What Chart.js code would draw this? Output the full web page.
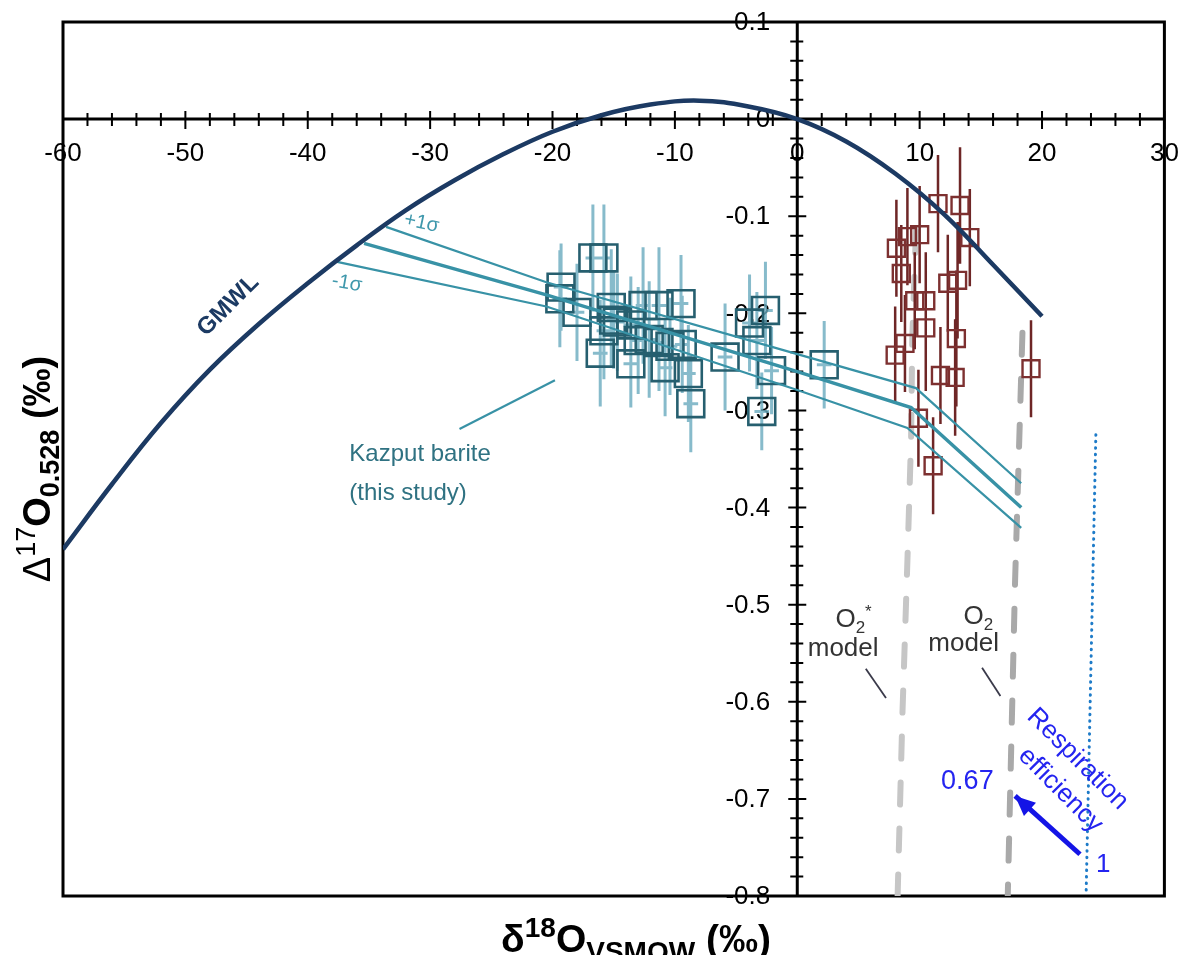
<!DOCTYPE html>
<html>
<head>
<meta charset="utf-8">
<title>Δ17O vs δ18O</title>
<script src="https://cdn.jsdelivr.net/npm/chart.js@4/dist/chart.umd.min.js"></script>
<style>
  html, body { margin: 0; padding: 0; background: #ffffff; }
  #box { width: 1186px; height: 955px; }
</style>
</head>
<body>
<div id="box"><canvas id="oxygen" width="1186" height="955"></canvas></div>
<script>
// global meteoric water line
const gmwlX = [-60, -56, -52, -48, -44, -40, -36, -32, -28, -24, -20, -16, -12, -8, -4, 0, 4, 8, 12, 16, 20];
const gmwlY = [-0.443, -0.376, -0.313, -0.258, -0.211, -0.169, -0.130, -0.094, -0.063, -0.036, -0.013, 0.004, 0.015, 0.019, 0.013, 0.000, -0.023, -0.056, -0.098, -0.150, -0.203];

// mixing lines: central, +1 sigma, -1 sigma
const mixX = [-35.4, -20.5, 0, 9.3, 18.3];
const mixY = [-0.128, -0.181, -0.260, -0.297, -0.400];
const mixUpX = [-33.6, -20.5, 0, 9.7, 18.3];
const mixUpY = [-0.111, -0.168, -0.242, -0.277, -0.375];
const mixLowX = [-37.6, -20.5, 0, 9.0, 18.3];
const mixLowY = [-0.147, -0.193, -0.279, -0.318, -0.421];

// Kazput barite
const kazX = [-16.7, -15.8, -19.3, -19.4, -18.0, -15.2, -15.0, -12.6, -11.3, -9.5, -16.1, -13.6, -10.8, -8.9, -8.7,
              -5.9, -2.1, -2.6, -3.9, -3.3, -2.9, 2.2, -14.7, -13.6, -12.1, -11.3, -10.4, -9.4, -15.8, -13.0];
const kazY = [-0.143, -0.143, -0.173, -0.185, -0.199, -0.194, -0.207, -0.192, -0.192, -0.190, -0.241, -0.252, -0.256, -0.262, -0.293,
              -0.245, -0.259, -0.197, -0.210, -0.228, -0.301, -0.253, -0.209, -0.212, -0.227, -0.230, -0.234, -0.232, -0.218, -0.228];
const kazErr = [0.055, 0.055, 0.045, 0.05, 0.05, 0.06, 0.05, 0.06, 0.06, 0.05, 0.055, 0.045, 0.05, 0.05, 0.05,
                0.055, 0.045, 0.05, 0.05, 0.05, 0.04, 0.045, 0.05, 0.05, 0.06, 0.05, 0.05, 0.05, 0.05, 0.055];

// other barite
const refX = [11.5, 13.3, 14.1, 9.0, 10.0, 8.1, 8.5, 12.3, 13.1, 9.6, 10.5, 10.5, 8.8, 8.0, 13.0, 11.7, 12.9, 9.9, 11.1, 19.1];
const refY = [-0.087, -0.089, -0.122, -0.121, -0.119, -0.133, -0.159, -0.169, -0.166, -0.187, -0.187, -0.215, -0.231, -0.243,
              -0.226, -0.264, -0.266, -0.308, -0.357, -0.257];
const refErr = [0.05, 0.06, 0.05, 0.05, 0.05, 0.05, 0.05, 0.05, 0.06, 0.05, 0.05, 0.065, 0.05, 0.05, 0.07, 0.05, 0.06, 0.05, 0.05, 0.05];

// model trajectories
const o2sX = [9.7, 9.4, 9.3, 9.0, 8.6, 8.2];
const o2sY = [-0.115, -0.225, -0.33, -0.455, -0.61, -0.80];
const o2X = [18.4, 17.8, 17.2];
const o2Y = [-0.22, -0.475, -0.80];

// respiration efficiency
const respX = [24.4, 23.6];
const respY = [-0.325, -0.80];
const arrowX = [23.1, 17.8];
const arrowY = [-0.757, -0.697];

// leader lines for labels
const kazLeadX = [-27.6, -19.8];
const kazLeadY = [-0.319, -0.269];
const o2sLeadX = [5.6, 7.25];
const o2sLeadY = [-0.566, -0.596];
const o2LeadX = [15.1, 16.6];
const o2LeadY = [-0.565, -0.594];

// labelled ticks
const xLabelTicks = [-60, -50, -40, -30, -20, -10, 0, 10, 20, 30];
const yLabelTicks = [0.1, 0, -0.1, -0.2, -0.3, -0.4, -0.5, -0.6, -0.7, -0.8];

const FONT = "'Liberation Sans', Arial, sans-serif";
const pts = (xs, ys) => xs.map((x, i) => ({x: x, y: ys[i]}));

function line(data, color, width, order, extra) {
    return Object.assign({
        type: 'line', data: data, borderColor: color, borderWidth: width,
        pointRadius: 0, fill: false, tension: 0, order: order
    }, extra || {});
}

function richText(ctx, parts, x, y, rot) {
    ctx.save();
    ctx.translate(x, y);
    ctx.rotate(rot || 0);
    let w = 0;
    parts.forEach(p => { ctx.font = p.font; p.w = ctx.measureText(p.t).width; w += p.w; });
    let cx = -w / 2;
    ctx.textAlign = 'left';
    ctx.textBaseline = 'alphabetic';
    parts.forEach(p => {
        ctx.font = p.font;
        ctx.fillStyle = p.color;
        ctx.fillText(p.t, cx, p.dy || 0);
        cx += p.w;
    });
    ctx.restore();
}

// error bars drawn just under their own squares
const errorBars = {
    id: 'errorBars',
    beforeDatasetDraw(chart, args) {
        const ds = chart.data.datasets[args.index];
        if (!ds.errY) return;
        const {ctx, scales: {x, y}} = chart;
        ctx.save();
        ctx.strokeStyle = ds.errColor;
        ctx.lineWidth = ds.errWidth;
        ctx.beginPath();
        ds.data.forEach((p, i) => {
            const px = x.getPixelForValue(p.x);
            ctx.moveTo(px, y.getPixelForValue(p.y + ds.errY[i]));
            ctx.lineTo(px, y.getPixelForValue(p.y - ds.errY[i]));
            if (ds.errX) {
                const py = y.getPixelForValue(p.y);
                ctx.moveTo(x.getPixelForValue(p.x - ds.errX), py);
                ctx.lineTo(x.getPixelForValue(p.x + ds.errX), py);
            }
        });
        ctx.stroke();
        ctx.restore();
    }
};

// frame, axes through the origin, crossing tick marks and y tick labels
const crossAxes = {
    id: 'crossAxes',
    beforeDatasetsDraw(chart) {
        const {ctx, chartArea: a, scales: {x, y}} = chart;
        const x0 = x.getPixelForValue(0);
        const y0 = y.getPixelForValue(0);
        ctx.save();
        ctx.font = '26px ' + FONT;
        ctx.fillStyle = '#000';
        ctx.textAlign = 'right';
        ctx.textBaseline = 'middle';
        yLabelTicks.forEach(v => {
            ctx.fillText(v === 0 ? '0' : v.toFixed(1), x0 - 27, y.getPixelForValue(v) + 1);
        });
        ctx.strokeStyle = '#000';
        ctx.lineWidth = 3;
        ctx.strokeRect(a.left, a.top, a.right - a.left, a.bottom - a.top);
        ctx.beginPath();
        ctx.moveTo(a.left, y0); ctx.lineTo(a.right, y0);
        ctx.moveTo(x0, a.top); ctx.lineTo(x0, a.bottom);
        ctx.stroke();
        ctx.lineWidth = 2;
        ctx.beginPath();
        x.ticks.forEach(t => {
            const p = x.getPixelForValue(t.value);
            const major = xLabelTicks.includes(t.value);
            ctx.moveTo(p, y0 - (major ? 8 : 6));
            ctx.lineTo(p, y0 + (major ? 10 : 7));
        });
        y.ticks.forEach(t => {
            const p = y.getPixelForValue(t.value);
            const major = Math.abs(Math.round(t.value * 50)) % 5 === 0;
            ctx.moveTo(x0 - (major ? 9 : 7), p);
            ctx.lineTo(x0 + (major ? 9 : 6), p);
        });
        ctx.stroke();
        ctx.restore();
    }
};

// arrow head, annotations and axis titles
const notes = {
    id: 'notes',
    afterDatasetsDraw(chart) {
        const {ctx, scales: {x, y}} = chart;
        const X = v => x.getPixelForValue(v);
        const Y = v => y.getPixelForValue(v);
        const deg = Math.PI / 180;

        // arrow head at the end of the respiration arrow
        const n = arrowX.length - 1;
        const tx = X(arrowX[n]), ty = Y(arrowY[n]);
        const ang = Math.atan2(ty - Y(arrowY[n - 1]), tx - X(arrowX[n - 1]));
        ctx.save();
        ctx.fillStyle = '#1414e6';
        ctx.translate(tx, ty);
        ctx.rotate(ang);
        ctx.beginPath();
        ctx.moveTo(0, 0);
        ctx.lineTo(-20, -9);
        ctx.lineTo(-20, 9);
        ctx.closePath();
        ctx.fill();
        ctx.restore();

        const labels = [
            {t: 'GMWL', x: -46.5, y: -0.192, rot: -45, font: 'bold 24px ' + FONT, color: '#1c3a63'},
            {t: '+1σ', x: -30.7, y: -0.107, rot: 12, font: '20px ' + FONT, color: '#3f98ac'},
            {t: '-1σ', x: -36.8, y: -0.169, rot: 10, font: '20px ' + FONT, color: '#3f98ac'},
            {t: 'Kazput barite', x: -36.6, y: -0.345, align: 'left', font: '24px ' + FONT, color: '#2f7282'},
            {t: '(this study)', x: -36.6, y: -0.385, align: 'left', font: '24px ' + FONT, color: '#2f7282'},
            {t: 'model', x: 3.75, y: -0.545, font: '26px ' + FONT, color: '#333333'},
            {t: 'model', x: 13.6, y: -0.540, font: '26px ' + FONT, color: '#333333'},
            {t: '0.67', x: 13.9, y: -0.682, font: '27px ' + FONT, color: '#2424f0'},
            {t: '1', x: 25.0, y: -0.768, font: '26px ' + FONT, color: '#2424f0'},
            {t: 'Respiration', x: 22.9, y: -0.659, rot: 45, font: '26px ' + FONT, color: '#2424f0'},
            {t: 'efficiency', x: 21.5, y: -0.691, rot: 45, font: '26px ' + FONT, color: '#2424f0'}
        ];
        labels.forEach(l => {
            ctx.save();
            ctx.translate(X(l.x), Y(l.y));
            ctx.rotate((l.rot || 0) * deg);
            ctx.font = l.font;
            ctx.fillStyle = l.color;
            ctx.textAlign = l.align || 'center';
            ctx.textBaseline = 'middle';
            ctx.fillText(l.t, 0, 0);
            ctx.restore();
        });

        const big = '26px ' + FONT, small = '17px ' + FONT;
        richText(ctx, [
            {t: 'O', font: big, color: '#333'},
            {t: '2', font: small, color: '#333', dy: 6},
            {t: '*', font: small, color: '#333', dy: -10}
        ], X(4.6), Y(-0.514) + 9);
        richText(ctx, [
            {t: 'O', font: big, color: '#333'},
            {t: '2', font: small, color: '#333', dy: 6}
        ], X(14.8), Y(-0.511) + 9);

        // axis titles
        const tb = 'bold 39px ' + FONT, ts = 'bold 28px ' + FONT;
        richText(ctx, [
            {t: 'δ', font: tb, color: '#000'},
            {t: '18', font: ts, color: '#000', dy: -15},
            {t: 'O', font: tb, color: '#000'},
            {t: 'VSMOW', font: ts, color: '#000', dy: 9},
            {t: ' (‰)', font: tb, color: '#000'}
        ], 636, 952);
        richText(ctx, [
            {t: 'Δ', font: '38px ' + FONT, color: '#000'},
            {t: '17', font: '27px ' + FONT, color: '#000', dy: -15},
            {t: 'O', font: 'bold 38px ' + FONT, color: '#000'},
            {t: '0.528', font: 'bold 27px ' + FONT, color: '#000', dy: 9},
            {t: ' (‰)', font: 'bold 38px ' + FONT, color: '#000'}
        ], 50, 469, -Math.PI / 2);
    }
};

const teal = '#3892a6';

new Chart(document.getElementById('oxygen'), {
    data: {
        datasets: [
            line(pts(gmwlX, gmwlY), '#1c3a63', 4.5, 0, {tension: 0.4}),
            line(pts(mixX, mixY), teal, 3.5, 1),
            line(pts(mixUpX, mixUpY), teal, 2.2, 1),
            line(pts(mixLowX, mixLowY), teal, 2.2, 1),
            line(pts(kazLeadX, kazLeadY), teal, 2.2, 1),
            {
                type: 'scatter', data: pts(kazX, kazY), order: 2,
                pointStyle: 'rect', pointRadius: 19, borderWidth: 2.6,
                borderColor: '#265f6f', backgroundColor: 'rgba(0,0,0,0)',
                errY: kazErr, errX: 0.6, errColor: 'rgba(105,170,190,0.8)', errWidth: 3
            },
            line(pts(arrowX, arrowY), '#1414e6', 5, 3),
            line(pts(respX, respY), '#1e7bc8', 3, 3, {borderDash: [0.5, 6], borderCapStyle: 'round'}),
            {
                type: 'scatter', data: pts(refX, refY), order: 4,
                pointStyle: 'rect', pointRadius: 12, borderWidth: 2.4,
                borderColor: '#7d3030', backgroundColor: 'rgba(0,0,0,0)',
                errY: refErr, errColor: '#6e2626', errWidth: 2.5
            },
            line(pts(o2sLeadX, o2sLeadY), '#3a3a4a', 1.8, 5),
            line(pts(o2LeadX, o2LeadY), '#3a3a4a', 1.8, 5),
            line(pts(o2sX, o2sY), '#c6c6c6', 6, 6, {borderDash: [22, 24], borderCapStyle: 'round'}),
            line(pts(o2X, o2Y), '#a9a9a9', 6, 6, {borderDash: [22, 24], borderCapStyle: 'round'})
        ]
    },
    options: {
        responsive: false,
        animation: false,
        devicePixelRatio: 1,
        events: [],
        layout: {padding: {left: 63, top: 22, right: 17, bottom: 59}},
        plugins: {legend: {display: false}, tooltip: {enabled: false}},
        scales: {
            x: {
                type: 'linear', min: -60, max: 30, position: {y: 0},
                grid: {display: false, drawTicks: false},
                border: {display: false},
                ticks: {
                    stepSize: 2, autoSkip: false, maxRotation: 0, padding: 0,
                    color: '#000', font: {family: FONT, size: 26, lineHeight: 2.7},
                    callback: v => xLabelTicks.includes(v) ? String(v) : ''
                }
            },
            y: {
                type: 'linear', min: -0.8, max: 0.1, position: {x: 0},
                grid: {display: false, drawTicks: false},
                border: {display: false},
                ticks: {stepSize: 0.02, autoSkip: false, display: false}
            }
        }
    },
    plugins: [errorBars, crossAxes, notes]
});
</script>
</body>
</html>
